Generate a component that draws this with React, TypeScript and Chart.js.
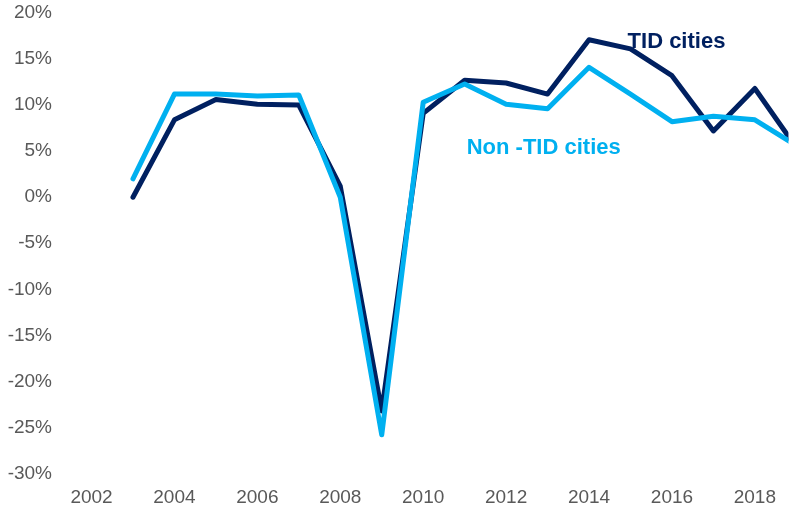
import React, { useEffect, useRef } from "react";
import { Chart, registerables } from "chart.js";

Chart.register(...registerables);

const years = [2003, 2004, 2005, 2006, 2007, 2008, 2009, 2010, 2011, 2012, 2013, 2014, 2015, 2016, 2017, 2018, 2019];
const tidCities = [0.0, 8.4, 10.6, 10.1, 10.0, 1.2, -23.2, 9.1, 12.7, 12.4, 11.2, 17.1, 16.1, 13.2, 7.2, 11.8, 5.4];
const nonTidCities = [2.0, 11.2, 11.2, 11.0, 11.1, 0.0, -25.8, 10.3, 12.3, 10.1, 9.6, 14.1, 11.2, 8.2, 8.8, 8.4, 5.6];
const xTickYears = [2002, 2004, 2006, 2008, 2010, 2012, 2014, 2016, 2018];
const yTicks = [-30, -25, -20, -15, -10, -5, 0, 5, 10, 15, 20];
const seriesLabels = ["TID cities", "Non -TID cities"];

const DARK = "#002060";
const LIGHT = "#00B0F0";
const FONT = "'Liberation Sans', Arial, Helvetica, sans-serif";

const labelPlugin = {
  id: "seriesLabels",
  afterDatasetsDraw(chart: any) {
    const { ctx, scales } = chart;
    const x = scales.x;
    const y = scales.y;
    ctx.save();
    ctx.font = `bold 22px ${FONT}`;
    ctx.textAlign = "left";
    ctx.textBaseline = "alphabetic";
    ctx.fillStyle = DARK;
    ctx.fillText(seriesLabels[0], x.getPixelForValue(2014.93), y.getPixelForValue(16.2));
    ctx.fillStyle = LIGHT;
    ctx.fillText(seriesLabels[1], x.getPixelForValue(2011.05), y.getPixelForValue(4.7));
    ctx.restore();
  },
};

export default function App() {
  const ref = useRef<HTMLCanvasElement | null>(null);

  useEffect(() => {
    document.body.style.margin = "0";
    document.body.style.overflow = "hidden";
    const canvas = ref.current;
    if (!canvas) return;
    const chart = new Chart(canvas, {
      type: "line",
      data: {
        datasets: [
          {
            label: seriesLabels[1],
            data: years.map((yr, i) => ({ x: yr, y: nonTidCities[i] })),
            borderColor: LIGHT,
            backgroundColor: LIGHT,
            borderWidth: 5,
            pointRadius: 0,
            tension: 0,
            borderCapStyle: "round",
            borderJoinStyle: "round",
          },
          {
            label: seriesLabels[0],
            data: years.map((yr, i) => ({ x: yr, y: tidCities[i] })),
            borderColor: DARK,
            backgroundColor: DARK,
            borderWidth: 5,
            pointRadius: 0,
            tension: 0,
            borderCapStyle: "round",
            borderJoinStyle: "round",
          },
        ],
      },
      options: {
        animation: false,
        responsive: true,
        maintainAspectRatio: false,
        layout: { padding: { top: 13, right: 0, bottom: 0, left: 0 } },
        plugins: {
          legend: { display: false },
          tooltip: { enabled: false },
        },
        scales: {
          x: {
            type: "linear",
            min: 2001.24,
            max: 2018.81,
            grid: { display: false, drawTicks: false },
            border: { display: false },
            afterBuildTicks: (s: any) => {
              s.ticks = xTickYears.map((v) => ({ value: v }));
            },
            afterFit: (s: any) => {
              s.height = 37.5;
            },
            ticks: {
              padding: 13,
              color: "#595959",
              font: { family: FONT, size: 19 },
              maxRotation: 0,
              autoSkip: false,
              callback: (v: any) => String(v),
            },
          },
          y: {
            type: "linear",
            min: -30,
            max: 20,
            grid: { display: false, drawTicks: false },
            border: { display: false },
            afterBuildTicks: (s: any) => {
              s.ticks = yTicks.map((v) => ({ value: v }));
            },
            afterFit: (s: any) => {
              s.width = 60;
              s.paddingTop = 13;
              s.paddingBottom = 0;
            },
            ticks: {
              padding: 8,
              color: "#595959",
              font: { family: FONT, size: 19 },
              callback: (v: any) => `${v}%`,
            },
          },
        },
      },
      plugins: [labelPlugin],
    });
    return () => chart.destroy();
  }, []);

  return (
    <div style={{ position: "relative", width: 789, height: 511 }}>
      <canvas ref={ref} />
    </div>
  );
}
